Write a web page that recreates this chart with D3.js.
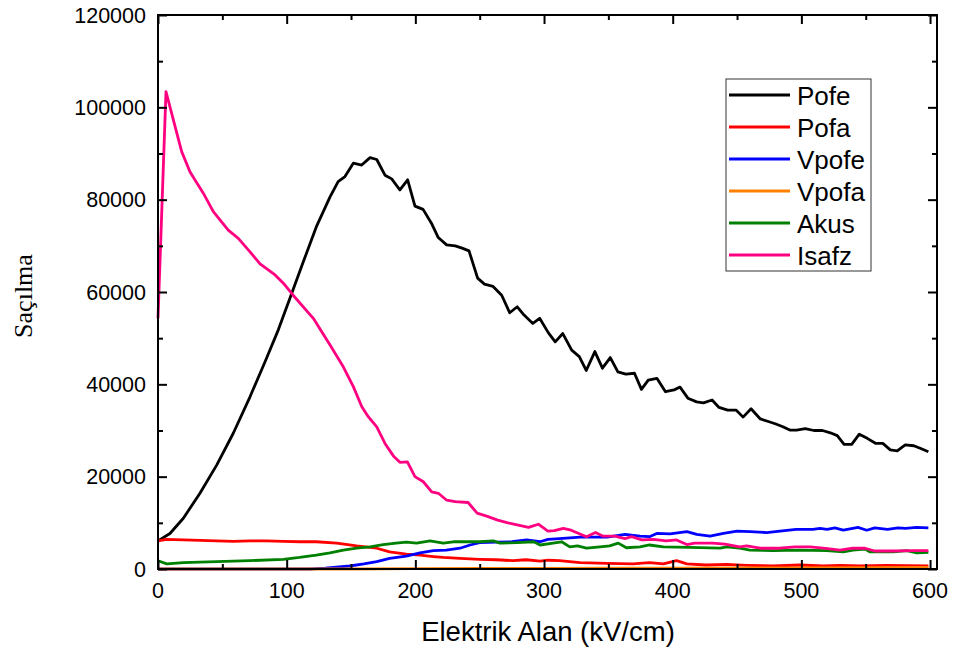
<!DOCTYPE html>
<html>
<head>
<meta charset="utf-8">
<script src="https://cdn.jsdelivr.net/npm/d3@7"></script>
<style>
html,body{margin:0;padding:0;background:#fff;}
svg{display:block;}
text{font-family:Arial,"Liberation Sans",sans-serif;fill:#000;}
</style>
</head>
<body>
<script>
// ---- data ----
const seriesNames = ["Pofe","Pofa","Vpofe","Vpofa","Akus","Isafz"];
const seriesColors = ["#000000","#ff0000","#0000ff","#ff8000","#008000","#ff0080"];

const pofe = [[0,6100],[9.3,7700],[19.7,11000],[32.6,16400],[45.6,22500],[58.5,29400],[71.5,37300],[83.2,44900],[93.5,51800],[102.6,58700],
[113,66600],[123,74100],[133.7,80600],[140,83900],[145.3,85000],[151.8,87900],[158.3,87500],[164.8,89100],[170,88700],[176.4,85300],
[181.6,84500],[188,82100],[194,84300],[199.7,78600],[206,77900],[212.5,74900],[217.8,71800],[224.3,70200],[231,70000],[236.3,69500],
[241.7,68900],[248.4,63000],[253.7,61700],[260.4,61200],[267.1,59300],[273.3,55500],[279.2,56800],[284.5,55000],[291.3,53200],[296.6,54300],
[303.3,51200],[308.7,49200],[314.6,51000],[321.5,47400],[327.4,46000],[332.8,43000],[339.5,47100],[345.4,43500],[351.5,45800],[357.4,42700],
[363.6,42200],[370.3,42400],[375.7,38900],[381,40900],[387.7,41300],[394.4,38400],[401.1,38800],[405.7,39400],[411.8,37000],[418.6,36200],
[423.9,36000],[430.6,36600],[436,35000],[442.7,34400],[449.4,34400],[454.7,32900],[460.9,34700],[468.1,32500],[474.9,31900],[480.2,31400],
[485.6,30800],[491,30100],[496.3,30100],[503,30400],[509.7,30000],[516.4,30000],[522.5,29500],[527.9,28900],[533.2,27000],[539.1,27000],
[545,29200],[551.2,28300],[557.9,27200],[563.3,27200],[569.1,25800],[574.5,25600],[580.7,26900],[587.4,26700],[592.8,26100],[598.7,25400]];

const pofa = [[0,6100],[6.7,6400],[19.7,6300],[45.6,6100],[58.5,6000],[71.5,6100],[84.5,6100],[97.4,6000],[110.4,5900],[123,5900],
[138.9,5600],[154.4,5000],[170,4500],[180,3700],[193,3200],[203.6,3000],[214,2700],[221.7,2500],[234.7,2300],[250,2100],
[263,2000],[276,1800],[286,2000],[297,1700],[303,1900],[312,1800],[328,1400],[349,1200],[369,1100],[382,1400],
[392.7,1100],[403,1800],[411,1100],[426,870],[442,1000],[457.5,800],[478,650],[499,870],[517,650],[530,800],
[545.6,650],[566,800],[582,700],[598.7,650]];

const vpofe = [[0,0],[118,0],[130,200],[149,650],[160,1100],[170,1600],[180,2300],[193,2800],[203.6,3500],[214,4000],
[224,4100],[234.7,4500],[242.5,5200],[250,5700],[263,5800],[275,5900],[286.5,6300],[297,5900],[303,6400],[312,6600],
[328,6900],[349,6900],[363,7500],[374.6,7100],[382,7000],[387.6,7700],[398,7600],[411,8100],[418.7,7500],[429,7100],
[439.4,7700],[450,8200],[460,8100],[473,7900],[483.4,8200],[496,8600],[509,8600],[514.5,8800],[520,8600],[526,8900],
[532.6,8400],[544,9000],[550.8,8400],[557,8900],[567,8600],[575,8900],[581,8800],[589.6,9000],[598.7,8900]];

const vpofa = [[0,0],[150,0],[200,100],[250,120],[300,150],[350,180],[400,200],[450,220],[500,250],[550,300],[598.7,350]];

const akus = [[0,1800],[6.8,1100],[19.7,1400],[45.6,1600],[71.5,1800],[97.4,2100],[110,2500],[123,3000],[133.7,3500],[144,4100],
[154.4,4500],[164.8,4800],[175,5300],[185,5600],[193,5800],[201,5600],[211.4,6100],[221.7,5600],[229.5,5900],[250,5900],
[260.6,6100],[265.8,5600],[278.8,5700],[292,5900],[297,5200],[307,5600],[313.7,5900],[320,4800],[326,5000],[333,4500],
[343.5,4800],[351,5000],[357.7,5600],[364,4600],[374.6,4800],[382,5200],[392.7,4800],[413,4700],[436.8,4500],[442,4800],
[452,4500],[460,4100],[478,4000],[499,4100],[519.7,4000],[532.6,3700],[540,4100],[549.5,4300],[553.4,3700],[571.5,3700],
[581.9,4000],[589.6,3500],[598.7,3600]];

const isafz = [[0,54300],[6.2,103400],[18.4,90400],[24.9,86000],[35.2,81400],[43,77400],[54.6,73400],[62.4,71600],[71.5,68700],[79.3,66100],
[91,63700],[97.4,61900],[105,59300],[120.7,54300],[133.7,48500],[144,43800],[151.8,39500],[158.3,35200],[163.4,33000],[170,30800],
[176.4,27200],[182.9,24500],[188,23100],[193.8,23200],[199.7,20000],[206.2,18900],[212.7,16700],[217.9,16400],[224.4,14900],[230.8,14600],
[241,14400],[248,12100],[256,11400],[264,10600],[272,10000],[280,9500],[288,9000],[295.6,9700],[303,8200],[308,8300],
[315,8800],[321,8400],[333,7000],[340,7900],[346,7100],[355,7100],[363,6600],[368,7000],[376,6300],[385,6400],
[395,6100],[403,6300],[411,5300],[417,5600],[431,5600],[440.6,5400],[452,4800],[457.5,5000],[468,4500],[483,4500],
[495,4800],[507,4800],[517,4500],[530,4100],[540,4500],[549.5,4500],[557,3900],[571.5,3900],[587,4000],[598.7,4000]];

const xTickValues = [0,100,200,300,400,500,600];
const yTickValues = [0,20000,40000,60000,80000,100000,120000];
const xTitle = "Elektrik Alan (kV/cm)";
const yTitle = "Saçılma";

// ---- drawing ----
const W = 960, H = 653;
const L = 158, R = 937, T = 15, B = 569;

const svg = d3.select("body").append("svg").attr("width", W).attr("height", H);

const x = d3.scaleLinear().domain([0, 605.4]).range([L, R]);
const y = d3.scaleLinear().domain([0, 120000]).range([B, T]);

const allSeries = [pofe, pofa, vpofe, vpofa, akus, isafz];

const line = d3.line().x(d => x(d[0])).y(d => y(d[1]));

const plot = svg.append("g");
allSeries.forEach((s, i) => {
  plot.append("path").datum(s)
    .attr("d", line)
    .attr("fill", "none")
    .attr("stroke", seriesColors[i])
    .attr("stroke-width", 2.8)
    .attr("stroke-linejoin", "round");
});

// axes (inward ticks, mirrored)
const xMinor = d3.range(50, 605, 100);
const yMinor = d3.range(10000, 120000, 20000);
const tickW = 2;

function axisG(axis, tx, ty) {
  const g = svg.append("g").attr("transform", `translate(${tx},${ty})`).call(axis);
  g.selectAll(".domain").remove();
  g.selectAll("line").attr("stroke", "#000").attr("stroke-width", tickW);
  return g;
}

// bottom
axisG(d3.axisTop(x).tickValues(xTickValues).tickSize(9).tickFormat(""), 0, B);
axisG(d3.axisTop(x).tickValues(xMinor).tickSize(5).tickFormat(""), 0, B);
// top
axisG(d3.axisBottom(x).tickValues(xTickValues).tickSize(9).tickFormat(""), 0, T);
axisG(d3.axisBottom(x).tickValues(xMinor).tickSize(5).tickFormat(""), 0, T);
// left
axisG(d3.axisRight(y).tickValues(yTickValues).tickSize(9).tickFormat(""), L, 0);
axisG(d3.axisRight(y).tickValues(yMinor).tickSize(5).tickFormat(""), L, 0);
// right
axisG(d3.axisLeft(y).tickValues(yTickValues).tickSize(9).tickFormat(""), R, 0);
axisG(d3.axisLeft(y).tickValues(yMinor).tickSize(5).tickFormat(""), R, 0);

// frame
svg.append("rect").attr("x", L).attr("y", T).attr("width", R - L).attr("height", B - T)
  .attr("fill", "none").attr("stroke", "#000").attr("stroke-width", 2);

// tick labels
svg.append("g").selectAll("text").data(xTickValues).join("text")
  .attr("x", d => x(d)).attr("y", 598)
  .attr("text-anchor", "middle").attr("font-size", 21.5)
  .text(d => d);
svg.append("g").selectAll("text").data(yTickValues).join("text")
  .attr("x", 146).attr("y", d => y(d) + 7.5)
  .attr("text-anchor", "end").attr("font-size", 21.5)
  .text(d => d);

// titles
svg.append("text").attr("x", 548).attr("y", 641)
  .attr("text-anchor", "middle").attr("font-size", 27.5).text(xTitle);
svg.append("text")
  .attr("transform", "translate(32,296) rotate(-90)")
  .attr("text-anchor", "middle")
  .style("font-family", "'Times New Roman','Liberation Serif',serif")
  .attr("font-size", 26).text(yTitle);

// legend
const lg = svg.append("g");
lg.append("rect").attr("x", 726).attr("y", 79).attr("width", 145).attr("height", 192)
  .attr("fill", "#fff").attr("stroke", "#333").attr("stroke-width", 1);
seriesNames.forEach((n, i) => {
  const cy = 95 + i * 32;
  lg.append("line").attr("x1", 729).attr("x2", 790).attr("y1", cy).attr("y2", cy)
    .attr("stroke", seriesColors[i]).attr("stroke-width", 2.8);
  lg.append("text").attr("x", 797).attr("y", cy + 9.5).attr("font-size", 26).text(n);
});
</script>
</body>
</html>
